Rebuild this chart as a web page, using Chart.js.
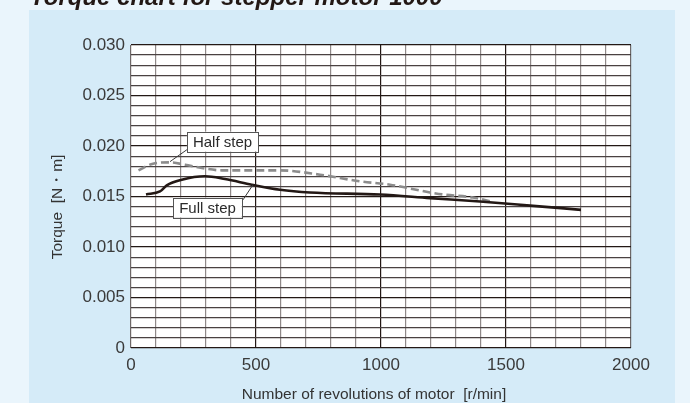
<!DOCTYPE html>
<html>
<head>
<meta charset="utf-8">
<script src="https://cdn.jsdelivr.net/npm/chart.js@4.4.1/dist/chart.umd.min.js"></script>
<style>
  html, body { margin: 0; padding: 0; background: #eaf5fc; }
  #c { display: block; }
</style>
</head>
<body>
<canvas id="c" width="690" height="403"></canvas>
<script>
// data
const rpmFull = [60, 116, 143, 203, 296, 376, 483, 596, 716, 996, 1196, 1396, 1596, 1800];
const torqueFull = [0.0152, 0.0155, 0.0161, 0.01666, 0.0170, 0.01673, 0.01617, 0.01567, 0.0154, 0.0152, 0.01484, 0.0145, 0.0141, 0.01368];

const rpmHalf = [30, 88, 156, 216, 283, 363, 508, 596, 756, 916, 1036, 1196, 1248, 1368, 1450];
const torqueHalf = [0.01759, 0.01825, 0.01838, 0.01815, 0.01782, 0.01759, 0.01759, 0.01759, 0.01716, 0.0165, 0.01617, 0.0154, 0.0152, 0.0149, 0.01445];

const xTicks = [0, 500, 1000, 1500, 2000];
const yTicks = [0, 0.005, 0.010, 0.015, 0.020, 0.025, 0.030];

const seriesNames = ['Half step', 'Full step'];
// label centres and leader lines, in chart units
const labelAt = [[366, 0.02043], [306, 0.01391]];
const leaderFrom = [[224, 0.01964], [448, 0.01467]];
const leaderTo = [[156, 0.01845], [488, 0.01617]];

const titleText = 'Torque chart for stepper motor 1000';
const xTitle = 'Number of revolutions of motor  [r/min]';
const yTitle = 'Torque  [N・m]';

const toPoints = (xs, ys) => xs.map((x, i) => ({x: x, y: ys[i]}));

const FONT = '"Liberation Sans", Arial, sans-serif';
const INK = '#231815';

const backdrop = {
  id: 'backdrop',
  beforeDraw(chart) {
    const {ctx, chartArea: a} = chart;
    ctx.save();
    ctx.fillStyle = '#eaf5fc';
    ctx.fillRect(0, 0, chart.width, chart.height);
    ctx.fillStyle = '#d5ebf8';
    ctx.fillRect(29, 10, 646, 393);
    ctx.fillStyle = '#ffffff';
    ctx.fillRect(a.left, a.top, a.right - a.left, a.bottom - a.top);
    ctx.font = 'italic bold 24px ' + FONT;
    ctx.fillStyle = INK;
    ctx.textBaseline = 'alphabetic';
    ctx.fillText(titleText, 30, 5);
    ctx.restore();
  }
};

const labels = {
  id: 'labels',
  afterDatasetsDraw(chart) {
    const {ctx, scales: {x, y}} = chart;
    ctx.save();
    ctx.font = '15px ' + FONT;
    for (let i = 0; i < seriesNames.length; i++) {
      ctx.strokeStyle = '#3a3a3a';
      ctx.lineWidth = 1;
      ctx.beginPath();
      ctx.moveTo(x.getPixelForValue(leaderFrom[i][0]), y.getPixelForValue(leaderFrom[i][1]));
      ctx.lineTo(x.getPixelForValue(leaderTo[i][0]), y.getPixelForValue(leaderTo[i][1]));
      ctx.stroke();
      const cx = x.getPixelForValue(labelAt[i][0]);
      const cy = y.getPixelForValue(labelAt[i][1]);
      const w = ctx.measureText(seriesNames[i]).width + 12;
      const h = 20;
      ctx.fillStyle = '#ffffff';
      ctx.fillRect(cx - w / 2, cy - h / 2, w, h);
      ctx.strokeStyle = '#555555';
      ctx.strokeRect(Math.round(cx - w / 2) + 0.5, Math.round(cy - h / 2) + 0.5, Math.round(w), h);
      ctx.fillStyle = '#2a2a2a';
      ctx.textAlign = 'center';
      ctx.textBaseline = 'middle';
      ctx.fillText(seriesNames[i], cx, cy + 1);
    }
    ctx.restore();
  },
  afterDraw(chart) {
    const {ctx} = chart;
    ctx.save();
    ctx.font = '15.5px ' + FONT;
    ctx.fillStyle = '#333333';
    ctx.textAlign = 'center';
    ctx.textBaseline = 'middle';
    ctx.fillText(xTitle, 374, 395);
    ctx.translate(58, 207);
    ctx.rotate(-Math.PI / 2);
    ctx.fillText(yTitle, 0, 0);
    ctx.restore();
  }
};

const ctx = document.getElementById('c').getContext('2d');

new Chart(ctx, {
  type: 'line',
  data: {
    datasets: [
      {
        label: seriesNames[0],
        data: toPoints(rpmHalf, torqueHalf),
        borderColor: '#8c8c8c',
        borderWidth: 2.6,
        borderDash: [8, 4],
        pointRadius: 0,
        cubicInterpolationMode: 'monotone',
        fill: false,
        order: 2
      },
      {
        label: seriesNames[1],
        data: toPoints(rpmFull, torqueFull),
        borderColor: INK,
        borderWidth: 2.6,
        pointRadius: 0,
        cubicInterpolationMode: 'monotone',
        fill: false,
        order: 1
      }
    ]
  },
  options: {
    responsive: false,
    animation: false,
    layout: {padding: {left: 0, right: 59, top: 45, bottom: 0}},
    plugins: {
      legend: {display: false},
      title: {display: false},
      tooltip: {enabled: false}
    },
    scales: {
      x: {
        type: 'linear',
        min: 0,
        max: 2000,
        afterFit(scale) { scale.height = 55; },
        border: {display: false},
        grid: {
          drawTicks: false,
          lineWidth: 1.2,
          color: (c) => {
            const v = c.tick.value;
            if (v === 0 || v === 2000) return '#6e6868';
            return v % 500 === 0 ? INK : '#8f8989';
          }
        },
        ticks: {
          stepSize: 100,
          autoSkip: false,
          maxRotation: 0,
          maxTicksLimit: 30,
          padding: 7,
          color: '#3a3a3a',
          font: {family: FONT, size: 17},
          callback: (v) => xTicks.includes(v) ? String(v) : ''
        }
      },
      y: {
        min: 0,
        max: 0.03,
        afterFit(scale) { scale.width = 131; },
        border: {display: false},
        grid: {
          drawTicks: false,
          lineWidth: 1.2,
          color: (c) => Math.round(c.tick.value * 1000) % 5 === 0 ? INK : '#4a4242'
        },
        ticks: {
          stepSize: 0.001,
          autoSkip: false,
          maxTicksLimit: 40,
          padding: 6,
          color: '#3a3a3a',
          font: {family: FONT, size: 17},
          callback: (v) => {
            const k = Math.round(v * 1000);
            if (!yTicks.some((t) => Math.round(t * 1000) === k)) return '';
            return k === 0 ? '0' : (k / 1000).toFixed(3);
          }
        }
      }
    }
  },
  plugins: [backdrop, labels]
});
</script>
</body>
</html>
